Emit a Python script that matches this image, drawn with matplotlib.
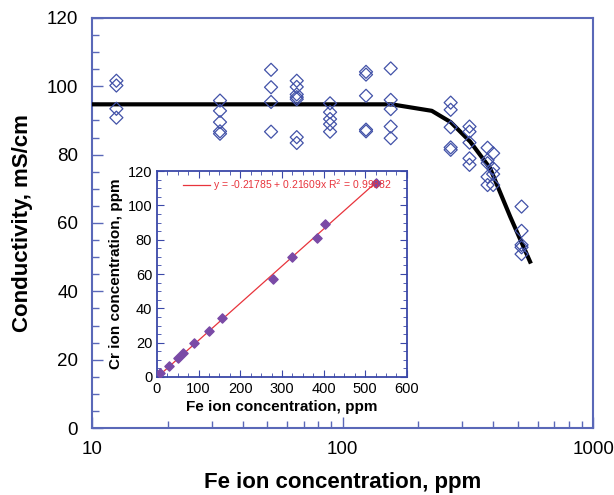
import numpy as np
import matplotlib
matplotlib.use('Agg')
import matplotlib.pyplot as plt
from matplotlib.ticker import MultipleLocator, NullFormatter

plt.rcParams['font.family'] = ['Liberation Sans', 'DejaVu Sans']

# main plot: conductivity vs Fe ion concentration (log x)
fe_ppm = [12.5, 12.5, 12.5, 12.5,
          32.4, 32.4, 32.4, 32.4, 32.4,
          51.8, 51.8, 51.8, 51.8,
          65.6, 65.6, 65.6, 65.6, 65.6, 65.6, 65.6,
          89.1, 89.1, 89.1, 89.1, 89.1,
          124, 124, 124, 124, 124,
          155.6, 155.6, 155.6, 155.6, 155.6,
          270, 270, 270, 270, 270,
          321, 321, 321, 321, 321,
          379, 379, 379, 379, 379,
          399, 399, 399, 399,
          518, 518, 518, 518, 518]
conductivity = [101.6, 100.2, 93.4, 90.8,
                95.8, 92.8, 89.5, 86.8, 86.1,
                104.8, 99.7, 95.4, 86.7,
                101.6, 99.8, 97.6, 96.8, 96.2, 85.1, 83.4,
                95.0, 92.4, 90.4, 88.9, 86.7,
                104.2, 103.4, 97.2, 87.3, 86.8,
                105.2, 96.0, 93.3, 88.2, 84.8,
                95.2, 93.1, 88.0, 82.1, 81.4,
                88.2, 86.7, 83.5, 78.9, 77.0,
                82.0, 78.4, 77.5, 73.5, 71.1,
                80.4, 76.0, 74.3, 71.1,
                64.8, 57.7, 53.6, 52.9, 50.9]

# model curve
curve_fe = [10, 157, 227, 270, 323, 388, 467, 560]
curve_cond = [94.7, 94.7, 92.8, 89.5, 83.8, 76.0, 61.8, 48.7]

# inset: Cr vs Fe
inset_fe = [8, 30, 50, 63, 88, 124, 156, 278, 324, 384, 404, 525]
inset_cr = [2.4, 6.6, 11.2, 14.0, 19.6, 27.0, 34.6, 57.0, 70.0, 81.0, 89.0, 113.0]
fit_intercept = -0.21785
fit_slope = 0.21609
fit_r2 = 0.99882

axis_blue = '#5a68b8'
marker_blue = '#4252a8'

fig = plt.figure(figsize=(6.14, 4.95), dpi=100)
ax = fig.add_axes([0.150, 0.135, 0.816, 0.829])
ax.plot(curve_fe, curve_cond, color='black', lw=3, zorder=3)
ax.scatter(fe_ppm, conductivity, marker='D', s=44, facecolors='none',
           edgecolors=marker_blue, linewidths=0.9, zorder=4)
ax.set_xscale('log')
ax.set_xlim(10, 1000)
ax.set_ylim(0, 120)
ax.set_xticks([10, 100, 1000])
ax.set_xticklabels(['10', '100', '1000'])
ax.xaxis.set_minor_formatter(NullFormatter())
ax.yaxis.set_major_locator(MultipleLocator(20))
ax.yaxis.set_minor_locator(MultipleLocator(5))
ax.tick_params(which='both', direction='in', color=axis_blue, labelsize=13.5,
               top=False, right=False)
ax.tick_params(which='major', length=8, width=1)
ax.tick_params(which='minor', length=5, width=1)
ax.tick_params(axis='x', pad=9)
ax.tick_params(axis='y', pad=10)
for s in ax.spines.values():
    s.set_color(axis_blue)
    s.set_linewidth(1.5)
ax.set_xlabel('Fe ion concentration, ppm', fontsize=16, fontweight='bold', labelpad=10)
ax.set_ylabel('Conductivity, mS/cm', fontsize=16, fontweight='bold', labelpad=10)

# inset
inset_blue = '#3a48a8'
ins = fig.add_axes([0.2557, 0.2384, 0.407, 0.416])
xs = np.array([min(inset_fe), max(inset_fe)])
ins.plot(xs, fit_intercept + fit_slope * xs, color='#e8343c', lw=0.9,
         label='y = %.5f + %.5fx R$^2$ = %.5f' % (fit_intercept, fit_slope, fit_r2))
ins.scatter(inset_fe, inset_cr, marker='D', s=22, color='#7a4aa6', zorder=3)
ins.set_xlim(0, 600)
ins.set_ylim(0, 120)
ins.xaxis.set_major_locator(MultipleLocator(100))
ins.xaxis.set_minor_locator(MultipleLocator(25))
ins.yaxis.set_major_locator(MultipleLocator(20))
ins.yaxis.set_minor_locator(MultipleLocator(5))
ins.tick_params(which='both', direction='in', color=inset_blue, labelsize=10.5,
                top=True, right=True)
ins.tick_params(which='major', length=5)
ins.tick_params(which='minor', length=3)
for s in ins.spines.values():
    s.set_color(inset_blue)
    s.set_linewidth(1.3)
ins.set_xlabel('Fe ion concentration, ppm', fontsize=11, fontweight='bold', labelpad=3)
ins.set_ylabel('Cr ion concentration, ppm', fontsize=11, fontweight='bold', labelpad=3)
leg = ins.legend(loc='upper left', frameon=False, handlelength=2.6,
                 prop={'family': ['Liberation Sans Narrow', 'Liberation Sans'], 'size': 7.5},
                 handletextpad=0.3, borderaxespad=0.2, bbox_to_anchor=(0.08, 1.0))
for t in leg.get_texts():
    t.set_color('#e8343c')

fig.savefig('out.png', dpi=100)
